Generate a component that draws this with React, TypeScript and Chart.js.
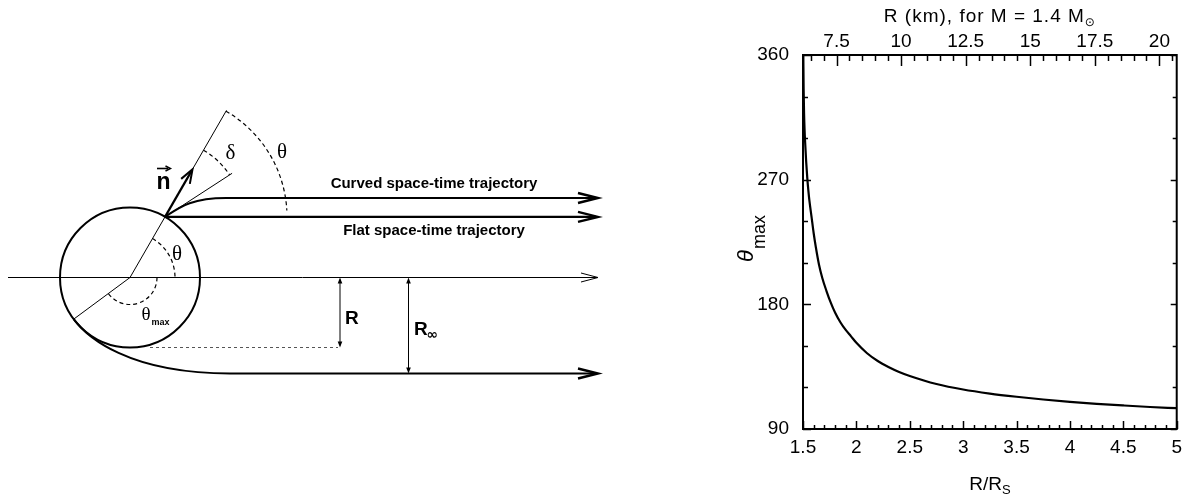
import React, { useEffect, useRef } from 'react';
import { Chart, registerables } from 'chart.js';

Chart.register(...registerables);

// ---- data ----
const ratioValues = [1.503, 1.506, 1.51, 1.515, 1.52, 1.53, 1.54, 1.55, 1.56, 1.58, 1.6, 1.62, 1.65, 1.68, 1.72, 1.76, 1.8, 1.85, 1.9, 1.95, 2.0, 2.1, 2.2, 2.3, 2.4, 2.5, 2.75, 3.0, 3.25, 3.5, 3.75, 4.0, 4.25, 4.5, 4.75, 5.0];
const thetaMaxValues = [360, 335, 318, 305.5, 297, 282.7, 271.3, 262.3, 254.9, 243.1, 231.3, 221.4, 208.6, 199.2, 189.6, 181.2, 174.1, 167.1, 161.5, 156.9, 152.2, 144.7, 139.1, 134.8, 131.2, 128.3, 122.5, 118.5, 115.6, 113.3, 111.3, 109.6, 108.2, 107, 105.9, 105];
const bottomTicks = [1.5, 2, 2.5, 3, 3.5, 4, 4.5, 5];
const leftTicks = [90, 180, 270, 360];
const topTicksKm = [7.5, 10, 12.5, 15, 17.5, 20];
const schwarzschildKm = 4.134; // R_S for M = 1.4 Msun
const ratioMin = 1.5;
const ratioMax = 5;
const thetaMin = 90;
const thetaMax = 360;

const SANS = '"Liberation Sans", Arial, sans-serif';
const SERIF = '"Liberation Serif", "Times New Roman", serif';

function seg(ctx: any, x1: number, y1: number, x2: number, y2: number, lw: number) {
  ctx.lineWidth = lw;
  ctx.beginPath();
  ctx.moveTo(x1, y1);
  ctx.lineTo(x2, y2);
  ctx.stroke();
}

function vArrow(ctx: any, tx: number, ty: number, ang: number, len: number, half: number, lw: number) {
  const c = Math.cos(ang), s = Math.sin(ang);
  const bx = tx - c * len, by = ty - s * len;
  ctx.lineWidth = lw;
  ctx.lineJoin = 'miter';
  ctx.beginPath();
  ctx.moveTo(bx - s * half, by + c * half);
  ctx.lineTo(tx, ty);
  ctx.lineTo(bx + s * half, by - c * half);
  ctx.stroke();
}

function solidArrow(ctx: any, tx: number, ty: number, ang: number, len: number, half: number) {
  const c = Math.cos(ang), s = Math.sin(ang);
  const bx = tx - c * len, by = ty - s * len;
  ctx.beginPath();
  ctx.moveTo(tx, ty);
  ctx.lineTo(bx - s * half, by + c * half);
  ctx.lineTo(bx + s * half, by - c * half);
  ctx.closePath();
  ctx.fill();
}

function drawDiagram(ctx: any) {
  const deg = Math.PI / 180;
  const C = { x: 130, y: 277.5 };
  const r = 70;
  const th = 60 * deg;
  const ux = Math.cos(th), uy = -Math.sin(th);
  const P = { x: C.x + r * ux, y: C.y + r * uy };
  const tm = 143.5 * deg;
  const Q = { x: C.x + r * Math.cos(tm), y: C.y + r * Math.sin(tm) };
  const arrowX = 598;
  const yCurved = 198;
  const yBottom = 373.5;

  ctx.save();
  ctx.strokeStyle = '#000';
  ctx.fillStyle = '#000';
  ctx.lineCap = 'butt';

  // symmetry axis
  seg(ctx, 8, C.y, arrowX - 1, C.y, 1);
  vArrow(ctx, arrowX, C.y, 0, 17, 4.5, 1);

  // star
  ctx.lineWidth = 2;
  ctx.beginPath();
  ctx.arc(C.x, C.y, r, 0, Math.PI * 2);
  ctx.stroke();

  // radial line through emission point
  seg(ctx, C.x, C.y, C.x + 193 * ux, C.y + 193 * uy, 1);
  // normal vector n
  seg(ctx, P.x, P.y, P.x + 52 * ux, P.y + 52 * uy, 2.2);
  vArrow(ctx, P.x + 55 * ux, P.y + 55 * uy, -th, 14, 5, 2);

  // emission direction (delta)
  const d = 33 * deg;
  seg(ctx, P.x, P.y, P.x + 80 * Math.cos(d), P.y - 80 * Math.sin(d), 1);

  // theta_max radius
  seg(ctx, C.x, C.y, Q.x, Q.y, 1);

  // dashed angle arcs
  ctx.setLineDash([4, 3]);
  ctx.lineWidth = 1.2;
  ctx.beginPath(); ctx.arc(P.x, P.y, 77, -60 * deg, -33 * deg); ctx.stroke();
  ctx.beginPath(); ctx.arc(P.x, P.y, 122, -60 * deg, -3 * deg); ctx.stroke();
  ctx.beginPath(); ctx.arc(C.x, C.y, 45, -60 * deg, 0); ctx.stroke();
  ctx.beginPath(); ctx.arc(C.x, C.y, 27, 0, tm); ctx.stroke();
  ctx.setLineDash([]);

  // trajectories
  ctx.lineWidth = 2;
  ctx.beginPath();
  ctx.moveTo(P.x, P.y);
  ctx.bezierCurveTo(P.x + 16 * Math.cos(d), P.y - 16 * Math.sin(d), 190, yCurved, 226, yCurved);
  ctx.lineTo(arrowX - 2, yCurved);
  ctx.stroke();
  vArrow(ctx, arrowX, yCurved, 0, 20, 5, 2.4);

  ctx.beginPath();
  ctx.moveTo(P.x, P.y);
  ctx.lineTo(arrowX - 2, P.y);
  ctx.stroke();
  vArrow(ctx, arrowX, P.y, 0, 20, 5, 2.4);

  ctx.lineWidth = 2;
  ctx.beginPath();
  ctx.moveTo(Q.x, Q.y);
  ctx.bezierCurveTo(Q.x + 22 * Math.sin(tm), Q.y - 22 * Math.cos(tm), 128, yBottom, 230, yBottom);
  ctx.lineTo(arrowX - 2, yBottom);
  ctx.stroke();
  vArrow(ctx, arrowX, yBottom, 0, 20, 5, 2.4);

  // dotted line at star bottom
  ctx.save();
  ctx.setLineDash([3, 3]);
  ctx.strokeStyle = '#555';
  seg(ctx, 150, C.y + r, 338, C.y + r, 1);
  ctx.restore();

  // R and R_inf markers
  seg(ctx, 340, C.y + 2, 340, C.y + r - 2, 1);
  solidArrow(ctx, 340, C.y, -Math.PI / 2, 6, 2.3);
  solidArrow(ctx, 340, C.y + r, Math.PI / 2, 6, 2.3);
  seg(ctx, 408.5, C.y + 2, 408.5, yBottom - 2, 1);
  solidArrow(ctx, 408.5, C.y, -Math.PI / 2, 6, 2.3);
  solidArrow(ctx, 408.5, yBottom, Math.PI / 2, 6, 2.3);

  // texts
  ctx.textAlign = 'center';
  ctx.textBaseline = 'middle';
  ctx.font = `bold 15px ${SANS}`;
  ctx.fillText('Curved space-time trajectory', 434, 184);
  ctx.fillText('Flat space-time trajectory', 434, 230.5);

  ctx.textBaseline = 'alphabetic';
  ctx.font = `21px ${SERIF}`;
  ctx.fillText('δ', 230.5, 159);
  ctx.fillText('θ', 282, 158);
  ctx.fillText('θ', 177, 260);

  ctx.font = `19px ${SERIF}`;
  ctx.fillText('θ', 146, 320);
  ctx.textAlign = 'left';
  ctx.font = `bold 9px ${SANS}`;
  ctx.fillText('max', 151.5, 324.5);

  // vector n
  ctx.textAlign = 'center';
  ctx.font = `bold 23px ${SANS}`;
  ctx.fillText('n', 163.5, 188.5);
  seg(ctx, 157, 168.5, 168, 168.5, 1.6);
  vArrow(ctx, 170.5, 168.5, 0, 5, 2.5, 1.4);

  ctx.textAlign = 'left';
  ctx.font = `bold 19px ${SANS}`;
  ctx.fillText('R', 345, 323.5);
  ctx.fillText('R', 414, 335);
  ctx.font = `bold 14px "DejaVu Sans", ${SANS}`;
  ctx.fillText('∞', 426.5, 339);

  ctx.restore();
}

const figurePlugin = {
  id: 'figure',
  afterDraw(chart: any) {
    const { ctx, chartArea: a, scales } = chart;
    const sx = scales.x, sy = scales.y, sx2 = scales.x2;
    ctx.save();
    ctx.strokeStyle = '#000';
    ctx.fillStyle = '#000';
    // frame
    ctx.lineWidth = 2;
    ctx.strokeRect(a.left, a.top, a.right - a.left, a.bottom - a.top);
    // bottom ticks (inward)
    for (let i = 0; i <= 35; i++) {
      const v = ratioMin + i * 0.1;
      const px = Math.round(sx.getPixelForValue(v)) + 0.5;
      const major = i % 5 === 0;
      seg(ctx, px, a.bottom, px, a.bottom - (major ? 8 : 4), 1.5);
    }
    // top ticks (km)
    for (let i = 13; i <= 41; i++) {
      const km = i * 0.5;
      const px = Math.round(sx2.getPixelForValue(km)) + 0.5;
      if (px < a.left + 1 || px > a.right - 1) continue;
      const major = i % 5 === 0;
      seg(ctx, px, a.top, px, a.top + (major ? 11 : 6), 1.5);
    }
    // left / right ticks
    for (let v = thetaMin; v <= thetaMax; v += 30) {
      const py = Math.round(sy.getPixelForValue(v)) + 0.5;
      const major = v % 90 === 0;
      seg(ctx, a.left, py, a.left + (major ? 8 : 5), py, 1.5);
      seg(ctx, a.right, py, a.right - (major ? 6 : 4), py, 1.5);
    }

    // axis titles
    const cx = (a.left + a.right) / 2;
    ctx.textBaseline = 'alphabetic';
    ctx.textAlign = 'left';
    // top title
    ctx.font = `19px ${SANS}`;
    try { ctx.letterSpacing = '1px'; } catch (e) { /* ignore */ }
    const t1 = 'R (km), for M = 1.4 M';
    const w1 = ctx.measureText(t1).width;
    ctx.font = `12px "DejaVu Sans", ${SANS}`;
    const w1b = ctx.measureText('⊙').width;
    const x1 = cx - (w1 + w1b) / 2;
    ctx.font = `19px ${SANS}`;
    ctx.fillText(t1, x1, 21.5);
    ctx.font = `12px "DejaVu Sans", ${SANS}`;
    ctx.fillText('⊙', x1 + w1, 25.5);
    try { ctx.letterSpacing = '0px'; } catch (e) { /* ignore */ }

    // bottom title
    ctx.font = `19px ${SANS}`;
    const t2 = 'R/R';
    const w2 = ctx.measureText(t2).width;
    ctx.font = `13px ${SANS}`;
    const w2b = ctx.measureText('S').width;
    const x2 = cx - (w2 + w2b) / 2;
    ctx.font = `19px ${SANS}`;
    ctx.fillText(t2, x2, 490);
    ctx.font = `13px ${SANS}`;
    ctx.fillText('S', x2 + w2, 494);

    // left title (rotated)
    ctx.save();
    ctx.translate(748, (a.top + a.bottom) / 2 - 3);
    ctx.rotate(-Math.PI / 2);
    ctx.font = `italic 22px ${SANS}`;
    const wt = ctx.measureText('θ').width;
    ctx.font = `18px ${SANS}`;
    const wm = ctx.measureText('max').width;
    const xs = -(wt + wm) / 2;
    ctx.font = `italic 22px ${SANS}`;
    ctx.fillText('θ', xs, 5);
    ctx.font = `18px ${SANS}`;
    ctx.fillText('max', xs + wt + 1, 17);
    ctx.restore();

    drawDiagram(ctx);
    ctx.restore();
  },
};

const tickFont = { family: SANS, size: 19 };

export default function App() {
  const ref = useRef<HTMLCanvasElement | null>(null);
  useEffect(() => {
    if (!ref.current) return;
    const chart = new Chart(ref.current, {
      type: 'line',
      data: {
        datasets: [
          {
            data: ratioValues.map((x, i) => ({ x, y: thetaMaxValues[i] })),
            borderColor: '#000',
            borderWidth: 2.2,
            pointRadius: 0,
            fill: false,
            cubicInterpolationMode: 'monotone',
          },
        ],
      },
      options: {
        animation: false,
        responsive: false,
        events: [],
        layout: { padding: { left: 0, right: 9, top: 0, bottom: 0 } },
        plugins: { legend: { display: false }, tooltip: { enabled: false }, title: { display: false } },
        scales: {
          x: {
            type: 'linear',
            position: 'bottom',
            min: ratioMin,
            max: ratioMax,
            grid: { display: false, drawTicks: false },
            border: { display: false },
            afterBuildTicks: (s: any) => { s.ticks = bottomTicks.map((v) => ({ value: v })); },
            afterFit: (s: any) => { s.height = 73; },
            ticks: { font: tickFont, color: '#000', padding: 7, maxRotation: 0, autoSkip: false, callback: (v: any) => String(v) },
          },
          x2: {
            type: 'linear',
            axis: 'x',
            position: 'top',
            min: ratioMin * schwarzschildKm,
            max: ratioMax * schwarzschildKm,
            grid: { display: false, drawTicks: false },
            border: { display: false },
            afterBuildTicks: (s: any) => { s.ticks = topTicksKm.map((v) => ({ value: v })); },
            afterFit: (s: any) => { s.height = 55; },
            ticks: { font: tickFont, color: '#000', padding: 2, maxRotation: 0, autoSkip: false, callback: (v: any) => String(v) },
          },
          y: {
            type: 'linear',
            position: 'left',
            min: thetaMin,
            max: thetaMax,
            grid: { display: false, drawTicks: false },
            border: { display: false },
            afterBuildTicks: (s: any) => { s.ticks = leftTicks.map((v) => ({ value: v })); },
            afterFit: (s: any) => { s.width = 803; },
            ticks: { font: tickFont, color: '#000', padding: 14, autoSkip: false, callback: (v: any) => String(v) },
          },
        },
      },
      plugins: [figurePlugin],
    } as any);
    return () => chart.destroy();
  }, []);
  return (
    <div style={{ position: 'fixed', left: 0, top: 0, width: 1189, height: 502, background: '#fff' }}>
      <canvas ref={ref} width={1189} height={502} style={{ display: 'block' }} />
    </div>
  );
}
